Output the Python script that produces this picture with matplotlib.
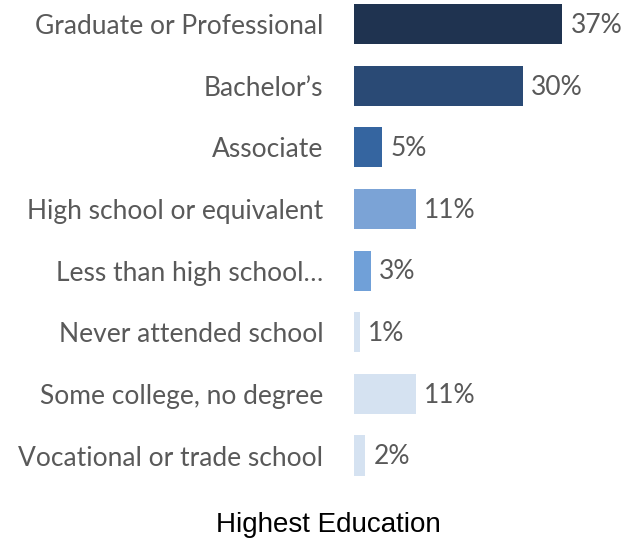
import matplotlib
matplotlib.use("Agg")
import matplotlib.pyplot as plt

categories = ["Graduate or Professional", "Bachelor’s", "Associate",
              "High school or equivalent", "Less than high school…",
              "Never attended school", "Some college, no degree",
              "Vocational or trade school"]
values = [37, 30, 5, 11, 3, 1, 11, 2]
value_labels = ["37%", "30%", "5%", "11%", "3%", "1%", "11%", "2%"]
colors = ["#1f3350", "#2a4a75", "#3565a0", "#7ba3d6", "#70a0d8",
          "#d5e2f1", "#d5e2f1", "#d5e2f1"]
title = "Highest Education"

W, H = 631, 544
fig = plt.figure(figsize=(W / 100, H / 100), dpi=100)
ax = fig.add_axes([354 / W, 1 - 480 / H, 266 / W, 480 / H])

y = list(range(len(categories)))
ax.barh(y, values, height=0.65, color=colors, edgecolor="none")
ax.set_xlim(0, 266 / 5.63)
ax.set_ylim(7.397, -0.389)
ax.set_yticks(y)
ax.set_yticklabels(categories, family=["Lato", "DejaVu Sans"], fontsize=19, color="#595959")
ax.tick_params(axis="y", length=0, pad=22)
ax.set_xticks([])
for s in ax.spines.values():
    s.set_visible(False)

for yi, v, lab in zip(y, values, value_labels):
    ax.annotate(lab, (v, yi), xytext=(6, -1), textcoords="offset points",
                va="center", ha="left", fontsize=19, color="#595959",
                family=["Lato", "DejaVu Sans"])

fig.text(328 / W, 1 - 525 / H, title, ha="center", va="center",
         fontsize=20, color="black", family="Liberation Sans")

fig.savefig("out.png", dpi=100)
